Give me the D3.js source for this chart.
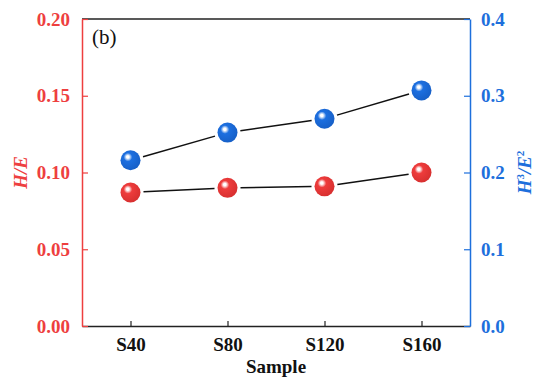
<!DOCTYPE html>
<html>
<head>
<meta charset="utf-8">
<script src="https://cdn.jsdelivr.net/npm/d3@7"></script>
<style>
  body { margin: 0; background: #fff; }
  svg text { font-family: "Liberation Serif", "Times New Roman", serif !important; }
</style>
</head>
<body>
<div id="chart"></div>
<script>
// données
const samples = ["S40", "S80", "S120", "S160"];
const hE = [0.087, 0.090, 0.091, 0.100];
const h3E2 = [0.216, 0.252, 0.270, 0.307];
const leftTicks = [0, 0.05, 0.10, 0.15, 0.20];
const rightTicks = [0, 0.1, 0.2, 0.3, 0.4];

const red = "#ee3f3f";
const blue = "#1d6fdc";

const width = 536, height = 378;
const margin = { top: 19, right: 66, bottom: 52, left: 82 };

const svg = d3.select("#chart").append("svg")
  .attr("width", width)
  .attr("height", height);

const defs = svg.append("defs");
function sphere(id, base, dark) {
  const g = defs.append("radialGradient").attr("id", id)
    .attr("cx", "40%").attr("cy", "38%").attr("r", "62%").attr("fx", "36%").attr("fy", "33%");
  g.append("stop").attr("offset", "0%").attr("stop-color", "#ffffff");
  g.append("stop").attr("offset", "10%").attr("stop-color", "#ffffff").attr("stop-opacity", 0.9);
  g.append("stop").attr("offset", "34%").attr("stop-color", base);
  g.append("stop").attr("offset", "100%").attr("stop-color", dark);
}
sphere("gRed", "#ee3c3c", "#d83030");
sphere("gBlue", "#1c6fe0", "#1760c8");

const x = d3.scalePoint()
  .domain(samples)
  .range([margin.left, width - margin.right])
  .padding(0.5);

const yL = d3.scaleLinear().domain([0, 0.2]).range([height - margin.bottom, margin.top]);
const yR = d3.scaleLinear().domain([0, 0.4]).range([height - margin.bottom, margin.top]);

// cadre du haut
svg.append("line")
  .attr("x1", margin.left).attr("x2", width - margin.right)
  .attr("y1", margin.top).attr("y2", margin.top)
  .attr("stroke", "#222").attr("stroke-width", 1.5);

// axe X
const gx = svg.append("g")
  .attr("transform", `translate(0, ${height - margin.bottom})`)
  .call(d3.axisBottom(x).tickSizeInner(-5).tickSizeOuter(0).tickPadding(12));
gx.select(".domain").attr("stroke", "#222").attr("stroke-width", 1.5);
gx.selectAll(".tick line").attr("stroke", "#222").attr("stroke-width", 1.2);
gx.selectAll("text").attr("font-size", 19).attr("font-weight", "bold").attr("fill", "#111");

// axe gauche
const gl = svg.append("g")
  .attr("transform", `translate(${margin.left}, 0)`)
  .call(d3.axisLeft(yL).tickValues(leftTicks).tickFormat(d3.format(".2f"))
    .tickSizeInner(-6).tickSizeOuter(0).tickPadding(12));
gl.select(".domain").attr("stroke", red).attr("stroke-width", 1.5);
gl.selectAll(".tick line").attr("stroke", red).attr("stroke-width", 1.2);
gl.selectAll("text").attr("font-size", 19).attr("font-weight", "bold").attr("fill", red);

// axe droit
const gr = svg.append("g")
  .attr("transform", `translate(${width - margin.right}, 0)`)
  .call(d3.axisRight(yR).tickValues(rightTicks).tickFormat(d3.format(".1f"))
    .tickSizeInner(-6).tickSizeOuter(0).tickPadding(11));
gr.select(".domain").attr("stroke", blue).attr("stroke-width", 1.5);
gr.selectAll(".tick line").attr("stroke", blue).attr("stroke-width", 1.2);
gr.selectAll("text").attr("font-size", 19).attr("font-weight", "bold").attr("fill", blue);

// titres
svg.append("text")
  .attr("x", (margin.left + width - margin.right) / 2)
  .attr("y", 373)
  .attr("text-anchor", "middle")
  .attr("font-size", 19).attr("font-weight", "bold").attr("fill", "#111")
  .text("Sample");

svg.append("text")
  .attr("transform", `translate(27, ${(margin.top + height - margin.bottom) / 2}) rotate(-90)`)
  .attr("text-anchor", "middle")
  .attr("font-size", 19).attr("font-weight", "bold").attr("font-style", "italic").attr("fill", red)
  .text("H/E");

const tr = svg.append("text")
  .attr("transform", `translate(531, ${(margin.top + height - margin.bottom) / 2}) rotate(-90)`)
  .attr("text-anchor", "middle")
  .attr("font-size", 19).attr("font-weight", "bold").attr("font-style", "italic").attr("fill", blue);
tr.append("tspan").text("H");
tr.append("tspan").attr("font-size", 11).attr("dy", -7).attr("font-style", "normal").text("3");
tr.append("tspan").attr("dy", 7).text("/E");
tr.append("tspan").attr("font-size", 11).attr("dy", -7).attr("font-style", "normal").text("2");

svg.append("text")
  .attr("x", 92).attr("y", 44)
  .attr("font-size", 21).attr("fill", "#111")
  .text("(b)");

// séries
const r = 10, gap = 3;
function series(values, y, fillId) {
  const pts = values.map((v, i) => [x(samples[i]), y(v)]);
  const segs = d3.pairs(pts).map(([a, b]) => {
    const dx = b[0] - a[0], dy = b[1] - a[1];
    const len = Math.hypot(dx, dy), k = (r + gap) / len;
    return [a[0] + dx * k, a[1] + dy * k, b[0] - dx * k, b[1] - dy * k];
  });
  svg.append("g").selectAll("line").data(segs).join("line")
    .attr("x1", d => d[0]).attr("y1", d => d[1])
    .attr("x2", d => d[2]).attr("y2", d => d[3])
    .attr("stroke", "#111").attr("stroke-width", 1.5);
  svg.append("g").selectAll("circle").data(pts).join("circle")
    .attr("cx", d => d[0]).attr("cy", d => d[1])
    .attr("r", r)
    .attr("fill", `url(#${fillId})`);
}
series(hE, yL, "gRed");
series(h3E2, yR, "gBlue");
</script>
</body>
</html>
